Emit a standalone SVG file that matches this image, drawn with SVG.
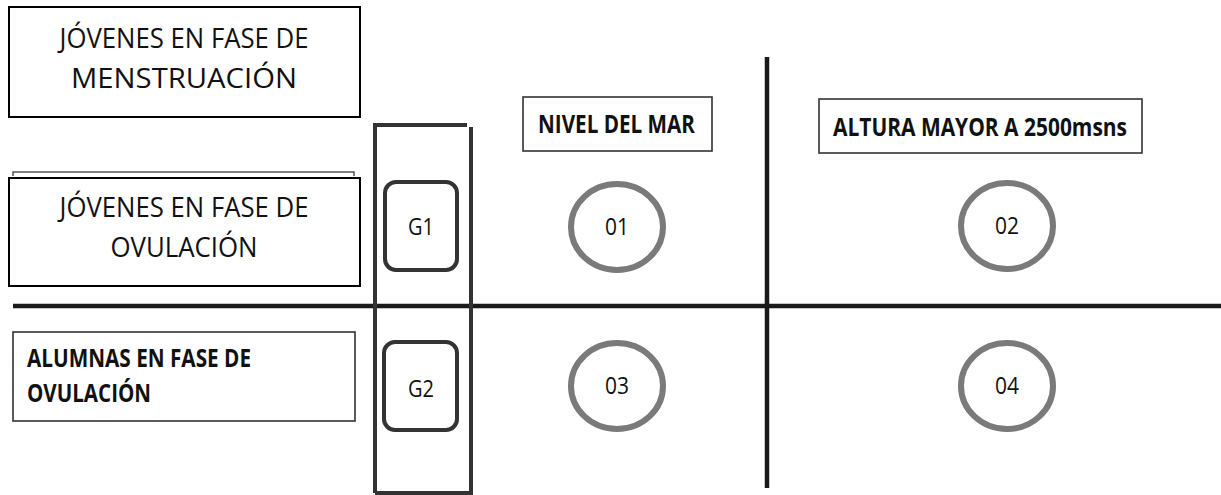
<svg xmlns="http://www.w3.org/2000/svg" width="1221" height="495" viewBox="0 0 1221 495">
<style>
.bg{fill:#fff}
.box{fill:#fff;stroke:#000;stroke-width:2}
.lbl{fill:#fff;stroke:#333;stroke-width:1.6}
.grp{fill:#fff;stroke:#333;stroke-width:4}
.obs{fill:#fff;stroke:#7a7a7a;stroke-width:6}
.line{stroke:#1a1a1a;stroke-width:4.5;fill:none}
.t{font-family:"Open Sans","Noto Sans",sans-serif;fill:#111}
.reg{font-size:28px;text-anchor:middle}
.bold{font-size:25px;font-weight:bold}
.small{font-size:23px;text-anchor:middle}
</style>
<rect class="bg" width="1221" height="495"/>
<g id="connectors">
<line class="line" x1="13" y1="306" x2="1221" y2="306"/>
<line class="line" x1="767" y1="57" x2="767" y2="488"/>
</g>
<g id="menstruacion">
<rect class="box" x="9" y="7" width="351" height="110"/>
<text class="t reg" x="184" y="48" textLength="249" lengthAdjust="spacingAndGlyphs">JÓVENES EN FASE DE</text>
<text class="t reg" x="184" y="88" textLength="226" lengthAdjust="spacingAndGlyphs">MENSTRUACIÓN</text>
</g>
<g id="ovulacion">
<path d="M13 176 V172 H354 V176" fill="none" stroke="#555" stroke-width="1.5"/>
<rect class="box" x="9" y="178" width="351" height="108"/>
<text class="t reg" x="184" y="217" textLength="249" lengthAdjust="spacingAndGlyphs">JÓVENES EN FASE DE</text>
<text class="t reg" x="184" y="257" textLength="147" lengthAdjust="spacingAndGlyphs">OVULACIÓN</text>
</g>
<g id="alumnas">
<rect class="lbl" x="13" y="332" width="342" height="89"/>
<text class="t bold" x="27" y="367" textLength="224" lengthAdjust="spacingAndGlyphs">ALUMNAS EN FASE DE</text>
<text class="t bold" x="27" y="402" textLength="124" lengthAdjust="spacingAndGlyphs">OVULACIÓN</text>
</g>
<g id="columna">
<path d="M375 493 V125 H467 M471 127 V493 H375" fill="none" stroke="#333" stroke-width="4"/>
</g>
<g id="g1">
<rect class="grp" x="385" y="182" width="72" height="88" rx="11"/>
<text class="t small" x="421" y="235" textLength="26" lengthAdjust="spacingAndGlyphs">G1</text>
</g>
<g id="g2">
<rect class="grp" x="384" y="342" width="73" height="88" rx="11"/>
<text class="t small" x="421" y="397" textLength="26" lengthAdjust="spacingAndGlyphs">G2</text>
</g>
<g id="nivel">
<rect class="lbl" x="523" y="97" width="189" height="54"/>
<text class="t bold" x="538" y="133" textLength="157" lengthAdjust="spacingAndGlyphs">NIVEL DEL MAR</text>
</g>
<g id="altura">
<rect class="lbl" x="819" y="99" width="323" height="54"/>
<text class="t bold" x="833" y="136" textLength="294" lengthAdjust="spacingAndGlyphs">ALTURA MAYOR A 2500msns</text>
</g>
<g id="o1">
<ellipse class="obs" cx="617" cy="227" rx="46" ry="43"/>
<text class="t small" x="617" y="235" textLength="24" lengthAdjust="spacingAndGlyphs">01</text>
</g>
<g id="o2">
<ellipse class="obs" cx="1007" cy="226" rx="46" ry="43"/>
<text class="t small" x="1007" y="234" textLength="24" lengthAdjust="spacingAndGlyphs">02</text>
</g>
<g id="o3">
<ellipse class="obs" cx="617" cy="386" rx="46" ry="43"/>
<text class="t small" x="617" y="394" textLength="24" lengthAdjust="spacingAndGlyphs">03</text>
</g>
<g id="o4">
<ellipse class="obs" cx="1007" cy="386" rx="46" ry="43"/>
<text class="t small" x="1007" y="394" textLength="24" lengthAdjust="spacingAndGlyphs">04</text>
</g>
</svg>
